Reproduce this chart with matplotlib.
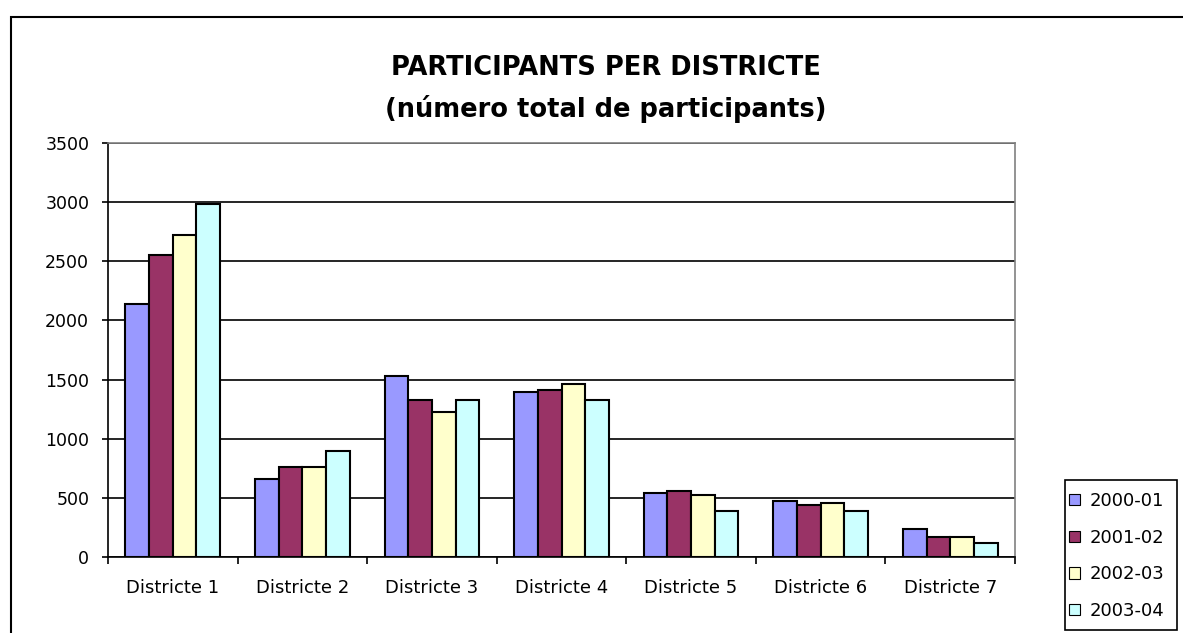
import matplotlib
matplotlib.use("Agg")
import matplotlib.pyplot as plt
import numpy as np
from matplotlib.patches import Rectangle, Patch

categories = ["Districte 1", "Districte 2", "Districte 3", "Districte 4",
              "Districte 5", "Districte 6", "Districte 7"]
series_names = ["2000-01", "2001-02", "2002-03", "2003-04"]
s2000_01 = [2140, 658, 1534, 1396, 542, 475, 237]
s2001_02 = [2554, 757, 1328, 1413, 559, 441, 167]
s2002_03 = [2724, 757, 1226, 1461, 525, 458, 170]
s2003_04 = [2983, 893, 1328, 1328, 390, 390, 119]
yticks = [0, 500, 1000, 1500, 2000, 2500, 3000, 3500]
colors = ["#9999FF", "#993366", "#FFFFCC", "#CCFFFF"]

plt.rcParams['font.family'] = ['DejaVu Sans']

W, H = 1183, 633
fig = plt.figure(figsize=(W/100, H/100), dpi=100)
ax = fig.add_axes([108/W, (H-557)/H, (1015-108)/W, (557-143)/H])

data = [s2000_01, s2001_02, s2002_03, s2003_04]
x = np.arange(len(categories))
bw = 0.183
for i, (vals, c) in enumerate(zip(data, colors)):
    ax.bar(x + (i - 1.5) * bw, vals, width=bw, color=c, edgecolor="black",
           linewidth=1.5, zorder=3, label=series_names[i])

ax.set_xlim(-0.5, len(categories) - 0.5)
ax.set_ylim(0, 3500)
ax.set_yticks(yticks)
ax.set_yticklabels([str(v) for v in yticks], fontsize=12.5)
ax.yaxis.grid(True, color="black", linewidth=1.2, zorder=1)
ax.set_axisbelow(True)

ax.set_xticks(x)
ax.set_xticklabels(categories, fontsize=13)
ax.tick_params(axis="x", length=0, pad=16)
ax.set_xticks(np.arange(-0.5, len(categories) + 0.5, 1), minor=True)
ax.tick_params(axis="x", which="minor", length=5, width=1.2, direction="out")
ax.tick_params(axis="y", length=4.5, width=1.2, direction="out", pad=9)

for s in ["left", "bottom"]:
    ax.spines[s].set_color("black")
    ax.spines[s].set_linewidth(1.2)
for s in ["top", "right"]:
    ax.spines[s].set_color("#808080")
    ax.spines[s].set_linewidth(1.2)

fig.text(606/W, 1 - 75/H, "PARTICIPANTS PER DISTRICTE", ha="center", va="baseline",
         fontsize=18.5, fontweight="bold")
fig.text(606/W, 1 - 117/H, "(número total de participants)", ha="center", va="baseline",
         fontsize=18.5, fontweight="bold")

# outer chart border
fig.patches.append(Rectangle((11/W, -0.05), 1.2, 1 - 17/H + 0.05,
                             transform=fig.transFigure, fill=False,
                             edgecolor="black", linewidth=1.5))

# legend frame
fig.patches.append(Rectangle((1065/W, (H-630)/H), (1177-1065)/W, (630-480)/H,
                             transform=fig.transFigure, fill=False,
                             edgecolor="black", linewidth=1.2))

handles = [Patch(facecolor=c, edgecolor="black", linewidth=0.8) for c in colors]
leg = fig.legend(handles, series_names, loc="upper left",
                 bbox_to_anchor=(1069/W, 1 - 492/H), fontsize=13,
                 frameon=False,
                 handlelength=0.6, handleheight=0.6, handletextpad=0.55,
                 labelspacing=1.03, borderpad=0, borderaxespad=0)

fig.savefig("out.png", dpi=100)
